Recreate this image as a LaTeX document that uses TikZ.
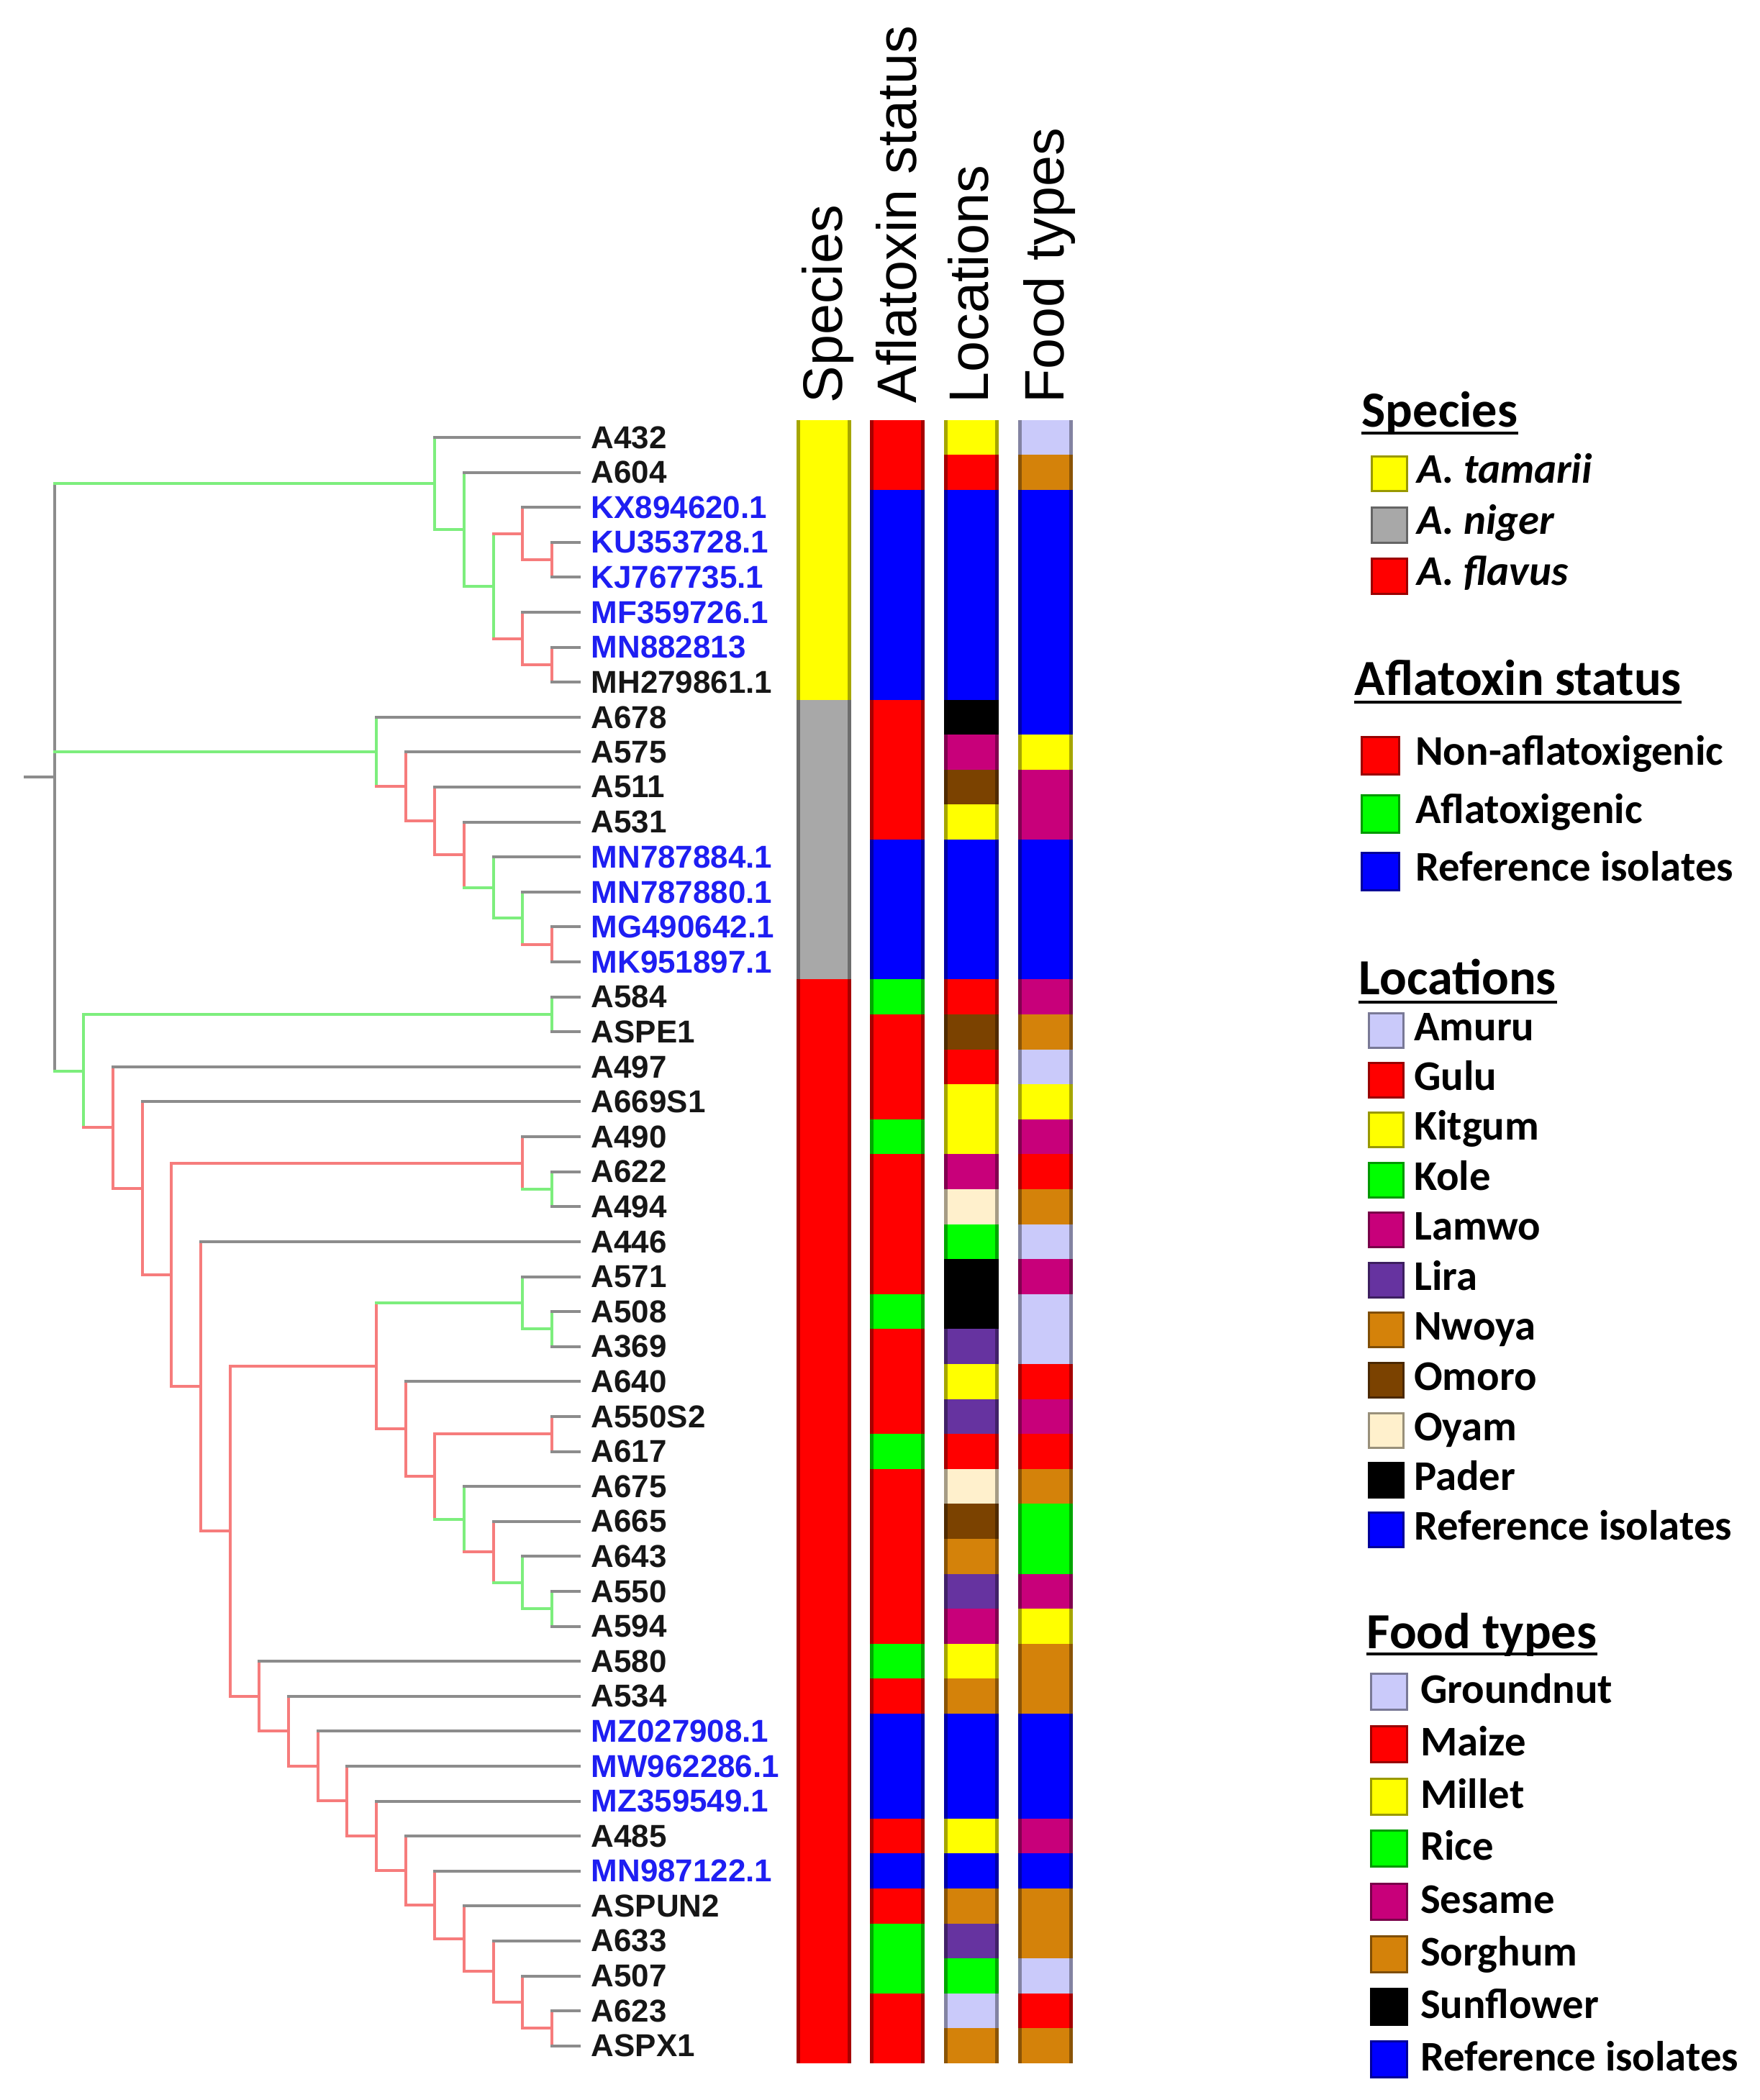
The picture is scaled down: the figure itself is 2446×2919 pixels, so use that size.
\documentclass[tikz,border=0pt]{standalone}
\usepackage{fontspec}
\newfontfamily\lblfont{Liberation Sans}
\newfontfamily\legfont{Carlito}

\definecolor{treegray}{HTML}{8C8C8C}
\definecolor{treegreen}{HTML}{7DEE7D}
\definecolor{treered}{HTML}{F67C7C}
\definecolor{lblblack}{HTML}{161616}
\definecolor{lblblue}{HTML}{1E1EF2}
\definecolor{cyellow}{HTML}{FFFF00}
\definecolor{cred}{HTML}{FF0000}
\definecolor{cblue}{HTML}{0000FF}
\definecolor{cgreen}{HTML}{00FF00}
\definecolor{cgray}{HTML}{A8A8A8}
\definecolor{cmagenta}{HTML}{C8007A}
\definecolor{cbrown}{HTML}{7B4200}
\definecolor{corange}{HTML}{D4820A}
\definecolor{ccream}{HTML}{FFF0CC}
\definecolor{clavender}{HTML}{CACAFA}
\definecolor{cpurple}{HTML}{6633A0}
\definecolor{cblack}{HTML}{000000}

% one annotation column: centre x, list of first/last row/colour
\newcommand\annstrip[2]{%
  \foreach \ra/\rb/\col in {#2}{%
    \fill[\col] (#1-38,\ra-0.5) rectangle (#1+38,\rb+0.5);
    \draw[\col!65!black, line width=0.5mm] (#1-35.5,\ra-0.5) -- (#1-35.5,\rb+0.5)
      (#1+35.5,\ra-0.5) -- (#1+35.5,\rb+0.5);
  }}

\begin{document}
\begin{tikzpicture}[x=0.1mm, y=-0.1mm,
    br/.style={line width=0.4mm, line cap=rect},
    leaflbl/.style={anchor=west, inner sep=0pt, font=\lblfont\bfseries\fontsize{12.5}{15}\selectfont},
    colhdr/.style={rotate=90, anchor=base west, inner sep=0pt, font=\lblfont\fontsize{22}{26}\selectfont},
    leghdr/.style={anchor=base west, inner sep=0pt, font=\legfont\bfseries\fontsize{20}{24}\selectfont},
    legtxt/.style={anchor=base west, inner sep=0pt, font=\legfont\bfseries\fontsize{16.7}{20}\selectfont},
    legsq/.style={draw=#1!60!black, fill=#1, line width=0.3mm, inner sep=0pt},
    uline/.style={line width=0.35mm}]
  \useasboundingbox (0,0) rectangle (2446,2919);

  % ---- tree ----
  \begin{scope}[x=4.065mm, y=-4.86mm, shift={(7.58mm,-55.95mm)}]
    \foreach \n/\x/\y in {R/0/10.715, N1/13/2.3125, N2/14/3.625, N3/15/5.25, N4/16/3.75,
        N5/17/4.5, N6/16/6.75, N7/17/7.5,
        M1/11/9.992, M2/12/10.984, M3/13/11.969, M4/14/12.938, M5/15/13.875, M6/16/14.75, M7/17/15.5,
        F1/1/19.118, F2/17/17.5, F3/2/20.736, F4/3/22.472, F5/4/24.944, F6/16/21.75, G6/17/22.5,
        F7/5/28.139, F8/6/32.277, F9/11/27.555, F10/16/25.75, G10/17/26.5, F11/12/29.359,
        F12/13/30.719, F13/17/29.5, F14/14/31.938, F15/15/32.875, F16/16/33.75, F17/17/34.5,
        F20/7/37, F21/8/37.999, F22/9/38.998, F23/10/39.996, F24/11/40.992, F25/12/41.984,
        F26/13/42.969, F27/14/43.9375, F28/15/44.875, F29/16/45.75, F30/17/46.5}
      \coordinate (\n) at (\x,\y);
    \foreach \r in {1,...,47}
      \coordinate (T\r) at (17.94,\r);

    % root
    \draw[br,treegray] (R) -- ++(-1,0);
    \draw[br,treegray] (R |- N1) -- (R |- F1);
    % node / parent / colour / first child / last child
    \foreach \n/\p/\col/\na/\nb in {N1/R/treegreen/T1/N2, N2/N1/treegreen/T2/N3, N3/N2/treegreen/N4/N6,
        N4/N3/treered/T3/N5, N5/N4/treered/T4/T5, N6/N3/treered/T6/N7, N7/N6/treered/T7/T8,
        M1/R/treegreen/T9/M2, M2/M1/treered/T10/M3, M3/M2/treered/T11/M4, M4/M3/treered/T12/M5,
        M5/M4/treegreen/T13/M6, M6/M5/treegreen/T14/M7, M7/M6/treered/T15/T16,
        F1/R/treegreen/F2/F3, F2/F1/treegreen/T17/T18, F3/F1/treered/T19/F4, F4/F3/treered/T20/F5,
        F5/F4/treered/F6/F7, F6/F5/treered/T21/G6, G6/F6/treegreen/T22/T23, F7/F5/treered/T24/F8,
        F8/F7/treered/F9/F20, F9/F8/treered/F10/F11, F10/F9/treegreen/T25/G10, G10/F10/treegreen/T26/T27,
        F11/F9/treered/T28/F12, F12/F11/treered/F13/F14, F13/F12/treered/T29/T30,
        F14/F12/treegreen/T31/F15, F15/F14/treered/T32/F16, F16/F15/treegreen/T33/F17,
        F17/F16/treegreen/T34/T35, F20/F8/treered/T36/F21, F21/F20/treered/T37/F22,
        F22/F21/treered/T38/F23, F23/F22/treered/T39/F24, F24/F23/treered/T40/F25,
        F25/F24/treered/T41/F26, F26/F25/treered/T42/F27, F27/F26/treered/T43/F28,
        F28/F27/treered/T44/F29, F29/F28/treered/T45/F30, F30/F29/treered/T46/T47}{
      \draw[br,\col] (\p |- \n) -- (\n);
      \draw[br,\col] (\n |- \na) -- (\n |- \nb);
    }
    % leaf branches
    \foreach \r/\p in {1/N1, 2/N2, 3/N4, 4/N5, 5/N5, 6/N6, 7/N7, 8/N7, 9/M1, 10/M2, 11/M3, 12/M4,
        13/M5, 14/M6, 15/M7, 16/M7, 17/F2, 18/F2, 19/F3, 20/F4, 21/F6, 22/G6, 23/G6, 24/F7,
        25/F10, 26/G10, 27/G10, 28/F11, 29/F13, 30/F13, 31/F14, 32/F15, 33/F16, 34/F17, 35/F17,
        36/F20, 37/F21, 38/F22, 39/F23, 40/F24, 41/F25, 42/F26, 43/F27, 44/F28, 45/F29, 46/F30, 47/F30}
      \draw[br,treegray] (\p |- T\r) -- (T\r);
    % tip labels
    \foreach \r/\lbl/\col in {1/A432/lblblack, 2/A604/lblblack, 3/KX894620.1/lblblue,
        4/KU353728.1/lblblue, 5/KJ767735.1/lblblue, 6/MF359726.1/lblblue, 7/MN882813/lblblue,
        8/MH279861.1/lblblack, 9/A678/lblblack, 10/A575/lblblack, 11/A511/lblblack, 12/A531/lblblack,
        13/MN787884.1/lblblue, 14/MN787880.1/lblblue, 15/MG490642.1/lblblue, 16/MK951897.1/lblblue,
        17/A584/lblblack, 18/ASPE1/lblblack, 19/A497/lblblack, 20/A669S1/lblblack, 21/A490/lblblack,
        22/A622/lblblack, 23/A494/lblblack, 24/A446/lblblack, 25/A571/lblblack, 26/A508/lblblack,
        27/A369/lblblack, 28/A640/lblblack, 29/A550S2/lblblack, 30/A617/lblblack, 31/A675/lblblack,
        32/A665/lblblack, 33/A643/lblblack, 34/A550/lblblack, 35/A594/lblblack, 36/A580/lblblack,
        37/A534/lblblack, 38/MZ027908.1/lblblue, 39/MW962286.1/lblblue, 40/MZ359549.1/lblblue,
        41/A485/lblblack, 42/MN987122.1/lblblue, 43/ASPUN2/lblblack, 44/A633/lblblack,
        45/A507/lblblack, 46/A623/lblblack, 47/ASPX1/lblblack}
      \node[leaflbl, text=\col] (L\r) at ([xshift=1.6mm]T\r) {\lbl};
  \end{scope}

  % ---- annotation columns ----
  \begin{scope}[y=-4.86mm, shift={(0,-55.95mm)}]
    \annstrip{1145}{1/8/cyellow, 9/16/cgray, 17/47/cred}
    \annstrip{1247}{1/2/cred, 3/8/cblue, 9/12/cred, 13/16/cblue, 17/17/cgreen, 18/20/cred,
      21/21/cgreen, 22/25/cred, 26/26/cgreen, 27/29/cred, 30/30/cgreen, 31/35/cred, 36/36/cgreen,
      37/37/cred, 38/40/cblue, 41/41/cred, 42/42/cblue, 43/43/cred, 44/45/cgreen, 46/47/cred}
    \annstrip{1350}{1/1/cyellow, 2/2/cred, 3/8/cblue, 9/9/cblack, 10/10/cmagenta, 11/11/cbrown,
      12/12/cyellow, 13/16/cblue, 17/17/cred, 18/18/cbrown, 19/19/cred, 20/21/cyellow,
      22/22/cmagenta, 23/23/ccream, 24/24/cgreen, 25/26/cblack, 27/27/cpurple, 28/28/cyellow,
      29/29/cpurple, 30/30/cred, 31/31/ccream, 32/32/cbrown, 33/33/corange, 34/34/cpurple,
      35/35/cmagenta, 36/36/cyellow, 37/37/corange, 38/40/cblue, 41/41/cyellow, 42/42/cblue,
      43/43/corange, 44/44/cpurple, 45/45/cgreen, 46/46/clavender, 47/47/corange}
    \annstrip{1452.5}{1/1/clavender, 2/2/corange, 3/9/cblue, 10/10/cyellow, 11/12/cmagenta,
      13/16/cblue, 17/17/cmagenta, 18/18/corange, 19/19/clavender, 20/20/cyellow, 21/21/cmagenta,
      22/22/cred, 23/23/corange, 24/24/clavender, 25/25/cmagenta, 26/27/clavender, 28/28/cred,
      29/29/cmagenta, 30/30/cred, 31/31/corange, 32/33/cgreen, 34/34/cmagenta, 35/35/cyellow,
      36/37/corange, 38/40/cblue, 41/41/cmagenta, 42/42/cblue, 43/44/corange, 45/45/clavender,
      46/46/cred, 47/47/corange}
  \end{scope}

  \node[colhdr] (hSpecies) at (1170,561) {Species};
  \node[colhdr] (hAflatoxin) at (1273,561) {Aflatoxin status};
  \node[colhdr] (hLocations) at (1373,561) {Locations};
  \node[colhdr] (hFood) at (1478,561) {Food types};

  % ---- legend ----
  \node[leghdr] (lgSpecies) at (1892,593) {Species};
  \draw[uline] ([yshift=-0.9mm]lgSpecies.base west) -- ([yshift=-0.9mm]lgSpecies.base east);
  \foreach \i/\yy/\col/\txt in {1/658.5/cyellow/A. tamarii, 2/730/cgray/A. niger, 3/801/cred/A. flavus}{
    \node[legsq=\col, minimum size=4.86mm] (sqSp\i) at (1931,\yy) {};
    \node[legtxt, font=\legfont\bfseries\itshape\fontsize{16.7}{20}\selectfont]
      (txSp\i) at ([xshift=1.2mm, yshift=-1.25mm]sqSp\i.east) {\txt};
  }

  \node[leghdr] (lgAflatoxin) at (1882,966) {Aflatoxin status};
  \draw[uline] ([yshift=-1mm]lgAflatoxin.base west) -- ([yshift=-1mm]lgAflatoxin.base east);
  \foreach \i/\yy/\col/\txt in {1/1050.4/cred/Non-aflatoxigenic, 2/1131/cgreen/Aflatoxigenic,
      3/1211/cblue/Reference isolates}{
    \node[legsq=\col, minimum size=5.2mm] (sqAf\i) at (1918,\yy) {};
    \node[legtxt] (txAf\i) at ([xshift=2.1mm, yshift=-1.3mm]sqAf\i.east) {\txt};
  }

  \node[leghdr] (lgLocations) at (1888,1382) {Locations};
  \draw[uline] ([yshift=-1.1mm]lgLocations.base west) -- ([yshift=-1.1mm]lgLocations.base east);
  \foreach \i/\yy/\col/\txt in {1/1432/clavender/Amuru, 2/1501.4/cred/Gulu, 3/1570.6/cyellow/Kitgum,
      4/1640.5/cgreen/Kole, 5/1709.5/cmagenta/Lamwo, 6/1779/cpurple/Lira, 7/1848.3/corange/Nwoya,
      8/1918.5/cbrown/Omoro, 9/1988/ccream/Oyam, 10/2057/cblack/Pader, 11/2126.7/cblue/Reference isolates}{
    \node[legsq=\col, minimum size=4.8mm] (sqLo\i) at (1926,\yy) {};
    \node[legtxt] (txLo\i) at ([xshift=1.3mm, yshift=-1.4mm]sqLo\i.east) {\txt};
  }

  \node[leghdr] (lgFood) at (1899,2291) {Food types};
  \draw[uline] ([yshift=-0.8mm]lgFood.base west) -- ([yshift=-0.8mm]lgFood.base east);
  \foreach \i/\yy/\col/\txt in {1/2351/clavender/Groundnut, 2/2424.3/cred/Maize, 3/2497.5/cyellow/Millet,
      4/2569.8/cgreen/Rice, 5/2643/cmagenta/Sesame, 6/2716/corange/Sorghum, 7/2789.4/cblack/Sunflower,
      8/2862.6/cblue/Reference isolates}{
    \node[legsq=\col, minimum size=5mm] (sqFd\i) at (1930,\yy) {};
    \node[legtxt] (txFd\i) at ([xshift=1.7mm, yshift=-1.6mm]sqFd\i.east) {\txt};
  }
\end{tikzpicture}
\end{document}
